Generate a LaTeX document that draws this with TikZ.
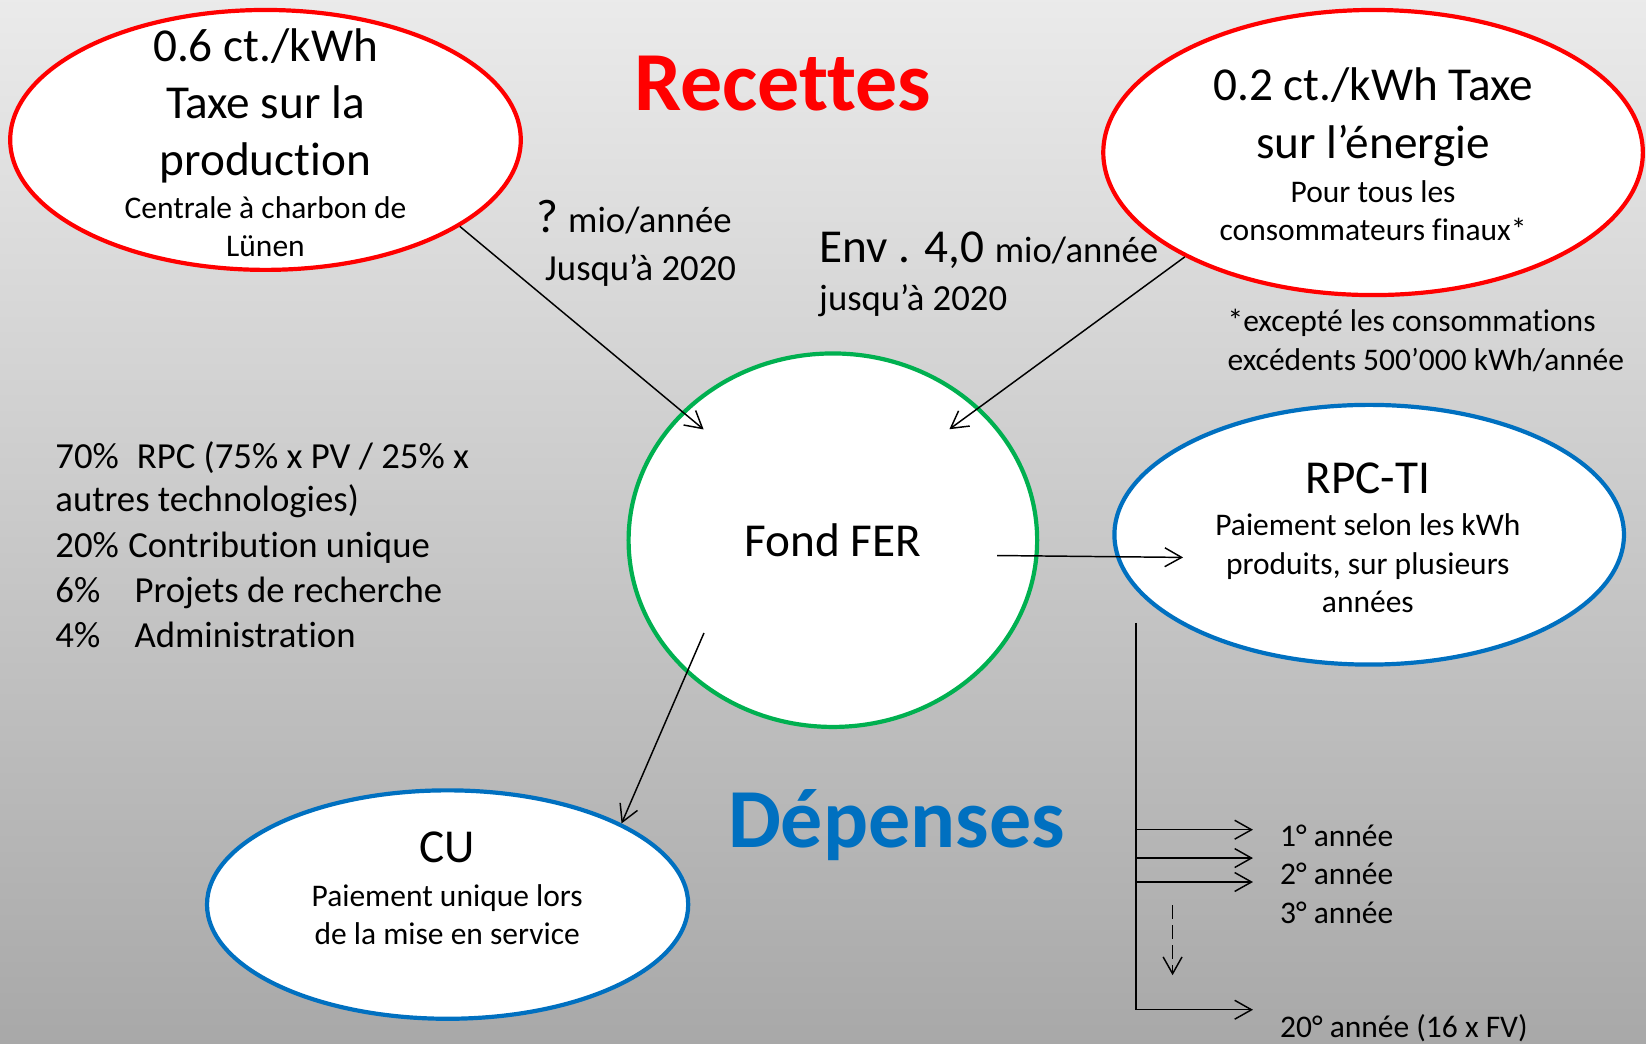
\documentclass[tikz,border=0pt]{standalone}
\usepackage{fontspec}
\setmainfont{Carlito}[RawFeature={-liga;-clig;-calt}]
\usetikzlibrary{shapes.geometric,arrows.meta}
\definecolor{rouge}{HTML}{FF0000}
\definecolor{bleu}{HTML}{0070C0}
\definecolor{vert}{HTML}{00B050}
\newcommand{\titre}{\fontsize{40pt}{48pt}\selectfont\bfseries}
\newcommand{\grand}{\fontsize{22.5pt}{27pt}\selectfont}
\newcommand{\moyen}{\fontsize{17.5pt}{21pt}\selectfont}
\newcommand{\petit}{\fontsize{15pt}{18pt}\selectfont}

\begin{document}
\begin{tikzpicture}[x=0.5pt, y=-0.5pt,
	bulle/.style={ellipse, draw, fill=white, line width=2pt, inner sep=0pt},
	txt/.style={inner sep=0pt, anchor=base},
	txtg/.style={inner sep=0pt, anchor=base west},
	fleche/.style={line width=0.7pt, -{Straight Barb[length=8pt,width=9pt]}}]
		% fond
		\shade [top color=black!8, bottom color=black!34] (0, 0) rectangle (1568, 993.6);
		\useasboundingbox (0, 0) rectangle (1568, 993.6);
		% bulles
		\node [bulle, draw=rouge, minimum width=243.2pt, minimum height=123.8pt] (prod) at (252.9, 133.3) {};
		\node [bulle, draw=rouge, minimum width=257pt, minimum height=135.8pt] (energ) at (1308, 145.3) {};
		\node [bulle, draw=vert, minimum width=194.6pt, minimum height=177.9pt] (fond) at (793.4, 514.6) {};
		\node [bulle, draw=bleu, minimum width=242.7pt, minimum height=123.7pt] (rpcti) at (1304.3, 509.4) {};
		\node [bulle, draw=bleu, minimum width=229.2pt, minimum height=108.8pt] (cu) at (426.4, 861.7) {};
		% titres
		\node [txt, text=rouge] (recettes) at (745.8, 104.8) {\titre Recettes};
		\node [txt, text=bleu] (depenses) at (854, 807.5) {\titre Dépenses};
		% textes des bulles
		\node [txt] (prod1) at (252.9, 59) {\grand 0.6 ct./kWh};
		\node [txt] (prod2) at (252.9, 113) {\grand Taxe sur la};
		\node [txt] (prod3) at (252.9, 167) {\grand production};
		\node [txt] (prod4) at (252.9, 208) {\petit Centrale à charbon de};
		\node [txt] (prod5) at (252.9, 244.5) {\petit Lünen};
		\node [txt] (energ1) at (1308, 95.3) {\grand 0.2 ct./kWh Taxe};
		\node [txt] (energ2) at (1308, 150.9) {\grand sur l’énergie};
		\node [txt] (energ3) at (1308, 193.2) {\petit Pour tous les};
		\node [txt] (energ4) at (1308, 228.7) {\petit consommateurs finaux*};
		\node [txt] (fond1) at (793.4, 530.5) {\grand Fond FER};
		\node [txt] (rpcti1) at (1303, 470.2) {\grand RPC-TI};
		\node [txt] (rpcti2) at (1303, 510.5) {\petit Paiement selon les kWh};
		\node [txt] (rpcti3) at (1303, 547) {\petit produits, sur plusieurs};
		\node [txt] (rpcti4) at (1303, 583.5) {\petit années};
		\node [txt] (cu1) at (426, 822.1) {\grand CU};
		\node [txt] (cu2) at (426, 863.4) {\petit Paiement unique lors};
		\node [txt] (cu3) at (426, 899.6) {\petit de la mise en service};
		% montants
		\node [txtg] (mont1) at (511, 221.7) {{\grand ?}\hspace{4.5pt}{\moyen mio/année}};
		\node [txtg] (mont2) at (519, 266.9) {\moyen Jusqu’à 2020};
		\node [txtg] (mont3) at (780, 250.3) {{\grand Env . 4,0 }{\moyen mio/année}};
		\node [txtg] (mont4) at (780, 295.5) {\moyen jusqu’à 2020};
		\node [txtg] (note1) at (1169, 316) {\petit *excepté les consommations};
		\node [txtg] (note2) at (1169, 352.6) {\petit excédents 500’000 kWh/année};
		% repartition
		\node [txtg] (liste1) at (52.4, 446.3) {\moyen\makebox[38.8pt][l]{70\%}RPC (75\% x PV / 25\% x};
		\node [txtg] (liste2) at (52.4, 487.6) {\moyen autres technologies)};
		\node [txtg] (liste3) at (52.4, 531.1) {\moyen\makebox[34.7pt][l]{20\%}Contribution unique};
		\node [txtg] (liste4) at (52.4, 574.3) {\moyen\makebox[37.7pt][l]{6\%}Projets de recherche};
		\node [txtg] (liste5) at (52.4, 616.9) {\moyen\makebox[37.7pt][l]{4\%}Administration};
		% annees
		\node [txtg] (an1) at (1219, 806.3) {\petit 1° année};
		\node [txtg] (an2) at (1219, 842.8) {\petit 2° année};
		\node [txtg] (an3) at (1219, 879.3) {\petit 3° année};
		\node [txtg] (an20) at (1219, 988) {\petit 20° année (16 x FV)};
		% fleches
		\coordinate (fin1) at (670.3, 409.1);
		\coordinate (fin2) at (904.4, 408.9);
		\coordinate (dep1) at (949.8, 529.2);
		\coordinate (fin3) at (1127, 531);
		\coordinate (dep2) at (670.6, 603);
		\draw [fleche] (prod.-24.5) -- (fin1);
		\draw [fleche] (energ.-151) -- (fin2);
		\draw [fleche] (dep1) -- (fin3);
		\draw [fleche] (dep2) -- (cu.25.5);
		% axe des annees
		\coordinate (axe) at (1082, 593.4);
		\coordinate (a1) at (1082, 790.4);
		\coordinate (a2) at (1082, 817.4);
		\coordinate (a3) at (1082, 840.2);
		\coordinate (a20) at (1193.6, 961.9);
		\coordinate (pa) at (1117, 862.5);
		\coordinate (pb) at (1117, 929);
		\draw [fleche] (axe) |- (a20);
		\draw [fleche] (a1) -- ++(111.6, 0);
		\draw [fleche] (a2) -- ++(111.6, 0);
		\draw [fleche] (a3) -- ++(111.6, 0);
		\draw [fleche, dash pattern=on 6.5pt off 3pt] (pa) -- (pb);
\end{tikzpicture}
\end{document}
